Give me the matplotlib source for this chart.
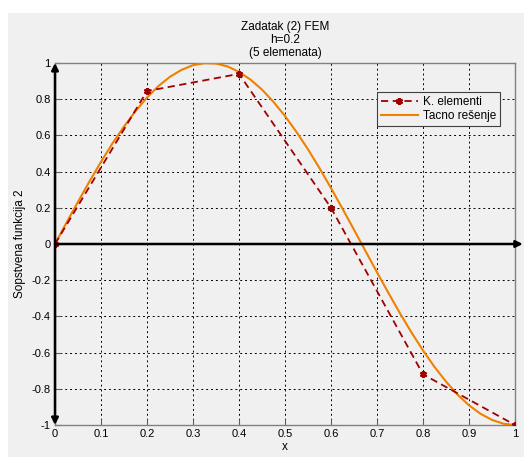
import matplotlib
matplotlib.use("Agg")
import matplotlib.pyplot as plt
from matplotlib.patches import Rectangle

# FEM solution (5 elements, h=0.2)
x_fem = [0.0, 0.2, 0.4, 0.6, 0.8, 1.0]
y_fem = [0.0, 0.845, 0.94, 0.2, -0.72, -1.0]

# exact solution at step 0.025
x_exact = [0.0, 0.025, 0.05, 0.075, 0.1, 0.125, 0.15, 0.175, 0.2, 0.225,
           0.25, 0.275, 0.3, 0.325, 0.35, 0.375, 0.4, 0.425, 0.45, 0.475,
           0.5, 0.525, 0.55, 0.575, 0.6, 0.625, 0.65, 0.675, 0.7, 0.725,
           0.75, 0.775, 0.8, 0.825, 0.85, 0.875, 0.9, 0.925, 0.95, 0.975, 1.0]
y_exact = [0.0, 0.118, 0.233, 0.346, 0.454, 0.556, 0.649, 0.734, 0.809, 0.873,
           0.924, 0.962, 0.988, 0.999, 0.997, 0.981, 0.951, 0.908, 0.853, 0.785,
           0.707, 0.619, 0.523, 0.419, 0.309, 0.195, 0.079, -0.039, -0.156, -0.271,
           -0.383, -0.489, -0.588, -0.679, -0.760, -0.832, -0.891, -0.938, -0.972, -0.993, -1.0]

x_ticks = [0, 0.1, 0.2, 0.3, 0.4, 0.5, 0.6, 0.7, 0.8, 0.9, 1]
y_ticks = [-1, -0.8, -0.6, -0.4, -0.2, 0, 0.2, 0.4, 0.6, 0.8, 1]

plt.rcParams['font.family'] = ['Liberation Sans', 'DejaVu Sans']
bg = '#f0f0f0'

fig = plt.figure(figsize=(5.24, 4.57), dpi=100)
fig.patch.set_facecolor('white')
fig.patches.append(Rectangle((8 / 524, 0), 1, 1 - 13 / 457, transform=fig.transFigure,
                             facecolor=bg, edgecolor='none', zorder=-10))

ax = fig.add_axes([55 / 524, 32 / 457, 460 / 524, 362 / 457])
ax.set_facecolor(bg)

ax.plot(x_fem, y_fem, color='#a00000', linewidth=1.3, linestyle=(0, (4, 2.5)),
        marker=(6, 2, 0), markersize=5, markeredgewidth=1.6, label='K. elementi', zorder=4)
ax.plot(x_exact, y_exact, '-', color='#f08000', linewidth=1.5, label='Tacno rešenje', zorder=3)

# coordinate axes with arrows
ax.annotate('', xy=(1.017, 0), xytext=(0, 0), annotation_clip=False,
            arrowprops=dict(arrowstyle='-|>', color='black', lw=1.8, mutation_scale=10,
                            shrinkA=0, shrinkB=0), zorder=5)
ax.annotate('', xy=(0, 1.0), xytext=(0, -1.0), annotation_clip=False,
            arrowprops=dict(arrowstyle='<|-|>', color='black', lw=1.8, mutation_scale=10,
                            shrinkA=0, shrinkB=0), zorder=5)

ax.set_xlim(0, 1)
ax.set_ylim(-1, 1)
ax.set_xticks(x_ticks)
ax.set_yticks(y_ticks)
ax.set_xticklabels(['0', '0.1', '0.2', '0.3', '0.4', '0.5', '0.6', '0.7', '0.8', '0.9', '1'])
ax.set_yticklabels(['-1', '-0.8', '-0.6', '-0.4', '-0.2', '0', '0.2', '0.4', '0.6', '0.8', '1'])
ax.tick_params(direction='in', length=4, labelsize=8, color='#606060', pad=3)
ax.grid(True, color='black', linestyle=(0, (2, 3)), linewidth=0.7)
for s in ax.spines.values():
    s.set_color('#808080')
    s.set_linewidth(1.0)

ax.set_xlabel('x', fontsize=8.5, labelpad=1)
ax.set_ylabel('Sopstvena funkcija 2', fontsize=8.5, labelpad=4)
ax.set_title('Zadatak (2) FEM\nh=0.2\n(5 elemenata)', fontsize=8.5, pad=5, linespacing=1.1)

leg = ax.legend(loc='upper right', bbox_to_anchor=(0.98, 0.935), fontsize=8.5,
                fancybox=False, framealpha=1, facecolor=bg, edgecolor='#404040',
                handlelength=3.2, borderpad=0.3, labelspacing=0.2, handletextpad=0.4)
leg.get_frame().set_linewidth(0.8)

fig.savefig('out.png', dpi=100, facecolor=fig.get_facecolor())
